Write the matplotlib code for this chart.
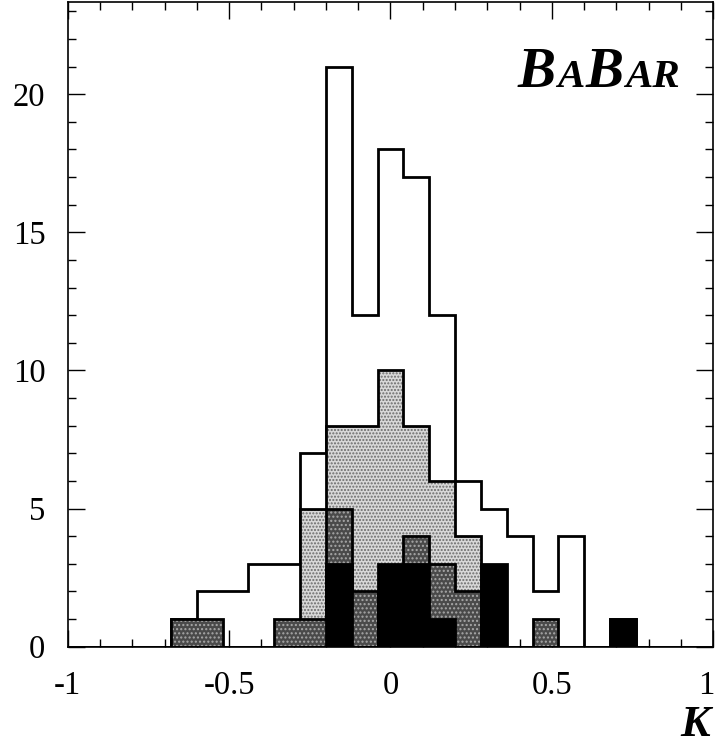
import numpy as np
import matplotlib
matplotlib.use("Agg")
import matplotlib.pyplot as plt
import matplotlib.transforms as mtransforms
from matplotlib.ticker import MultipleLocator, FixedLocator, FixedFormatter
from matplotlib.offsetbox import TextArea, HPacker, AnchoredOffsetbox

# ---- data ----
bin_edges = np.round(np.linspace(-1.0, 1.0, 26), 2)
total = [0, 0, 0, 0, 1, 2, 2, 3, 3, 7, 21, 12, 18, 17, 12, 6, 5, 4, 2, 4, 0, 1, 0, 0, 0]
light = [0, 0, 0, 0, 0, 0, 0, 0, 0, 5, 8, 8, 10, 8, 6, 4, 0, 0, 0, 0, 0, 0, 0, 0, 0]
dark = [0, 0, 0, 0, 1, 1, 0, 0, 1, 1, 5, 2, 0, 4, 3, 2, 0, 0, 1, 0, 0, 0, 0, 0, 0]
black = [0, 0, 0, 0, 0, 0, 0, 0, 0, 0, 3, 0, 3, 3, 1, 0, 3, 0, 0, 0, 0, 1, 0, 0, 0]
xticks = [-1, -0.5, 0, 0.5, 1]
xticklabels = ["-1", "-0.5", "0", "0.5", "1"]
yticks = [0, 5, 10, 15, 20]
yticklabels = ["0", "5", "10", "15", "20"]

plt.rcParams['font.family'] = ['Liberation Serif', 'DejaVu Serif']
plt.rcParams['hatch.linewidth'] = 1.0

fig = plt.figure(figsize=(7.17, 7.47), dpi=100)
ax = fig.add_axes([0.0944, 0.1343, 0.9004, 0.8634])

lw = 2.0
# total outline
ax.stairs(total, bin_edges, fill=False, edgecolor='black', linewidth=lw, zorder=2)
# light stipple
ax.stairs(light, bin_edges, fill=True, facecolor='#d8d8d8', edgecolor='#6a6a6a',
          hatch='.....', linewidth=0, zorder=3)
ax.stairs(light, bin_edges, fill=False, edgecolor='black', linewidth=lw, zorder=3.5)
# dark checkered
ax.stairs(dark, bin_edges, fill=True, facecolor='#4a4a4a', edgecolor='#a8a8a8',
          hatch='....', linewidth=0, zorder=4)
ax.stairs(dark, bin_edges, fill=False, edgecolor='black', linewidth=lw, zorder=4.5)
# black
ax.stairs(black, bin_edges, fill=True, facecolor='black', edgecolor='black',
          linewidth=lw, zorder=5)

ax.set_xlim(-1, 1)
ax.set_ylim(0, 23.35)
ax.xaxis.set_major_locator(FixedLocator(xticks))
ax.xaxis.set_major_formatter(FixedFormatter(xticklabels))
ax.xaxis.set_minor_locator(MultipleLocator(0.1))
ax.yaxis.set_major_locator(FixedLocator(yticks))
ax.yaxis.set_major_formatter(FixedFormatter(yticklabels))
ax.yaxis.set_minor_locator(MultipleLocator(1))
ax.tick_params(which='both', direction='in', top=True, right=True, width=1.0, labelsize=23.5)
ax.tick_params(which='major', length=12)
ax.tick_params(which='minor', length=6)
ax.tick_params(axis='x', which='major', pad=17)
ax.tick_params(axis='y', which='major', pad=16)
for s in ax.spines.values():
    s.set_linewidth(1.2)
    s.set_zorder(10)

# nudge the last x label so it stays inside the figure
fig.canvas.draw()
last = ax.get_xticklabels()[-1]
last.set_transform(last.get_transform() +
                   mtransforms.ScaledTranslation(-5 / 72, 0, fig.dpi_scale_trans))

# K label
fig.text(0.990, 0.003, "K", fontsize=32, fontweight='bold', fontstyle='italic',
         ha='right', va='bottom')

# BABAR logo
parts = [("B", 41), ("A", 29.5), ("B", 41), ("AR", 29.5)]
boxes = [TextArea(t, textprops=dict(fontsize=s, fontweight='bold', fontstyle='italic'))
         for t, s in parts]
pack = HPacker(children=boxes, align='baseline', pad=0, sep=1)
anch = AnchoredOffsetbox(loc='upper right', child=pack, pad=0, borderpad=0, frameon=False,
                         bbox_to_anchor=(680 / 717, 1 - 47 / 747),
                         bbox_transform=fig.transFigure)
ax.add_artist(anch)

fig.savefig("out.png", dpi=100)
